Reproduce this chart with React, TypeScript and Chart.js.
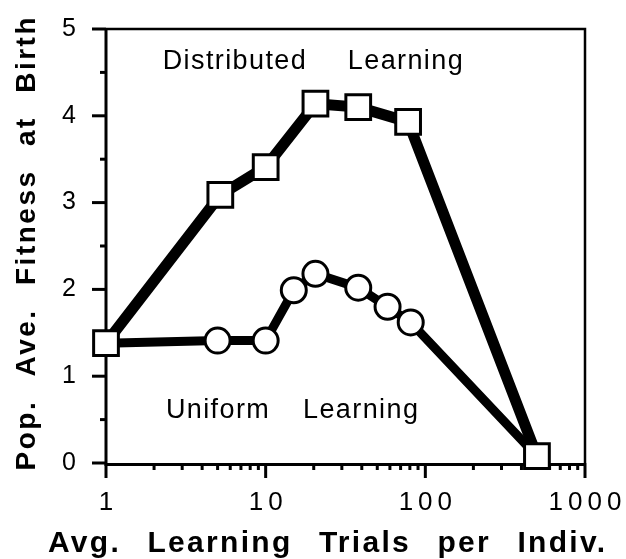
import React, { useEffect, useRef } from 'react';
import { Chart, registerables } from 'chart.js';

Chart.register(...registerables);

// ---- data ----
const distributedX = [1, 5.2, 10, 20.5, 38, 78, 500];
const distributedY = [1.38, 3.09, 3.41, 4.14, 4.1, 3.93, 0.08];
const uniformX = [1, 5, 10, 15, 20.5, 38, 58, 81, 500];
const uniformY = [1.38, 1.41, 1.41, 1.99, 2.18, 2.02, 1.8, 1.62, 0.08];

const xMajorTicks = [1, 10, 100, 1000];
const xMajorLabels = ['1', '10', '100', '1000'];
const xMinorTicks = [2, 3, 4, 5, 6, 7, 8, 9, 20, 30, 40, 50, 60, 70, 80, 90, 200, 300, 400, 500, 600, 700, 800, 900];
const yMajorTicks = [0, 1, 2, 3, 4, 5];
const yMinorTicks = [0.5, 1.5, 2.5, 3.5, 4.5];

const xTitle = 'Avg. Learning Trials per Indiv.';
const yTitle = 'Pop. Ave. Fitness at Birth';
const annotationTexts = ['Distributed Learning', 'Uniform Learning'];
const annotationX = [19.7, 14.6];
const annotationY = [4.62, 0.61];

const FONT = '"Liberation Sans", Arial, Helvetica, sans-serif';

function naturalWidth(ctx: CanvasRenderingContext2D, s: string) {
  (ctx as any).letterSpacing = '0px';
  return ctx.measureText(s).width;
}

// draw words centred on cx, stretching the gaps so the whole text spans `target` px
function drawSpread(ctx: CanvasRenderingContext2D, text: string, letterSp: number, target: number, cx: number, y: number) {
  const words = text.split(' ');
  const widths = words.map((w) => naturalWidth(ctx, w) + letterSp * Math.max(0, w.length - 1));
  const sum = widths.reduce((a, b) => a + b, 0);
  const gap = words.length > 1 ? (target - sum) / (words.length - 1) : 0;
  (ctx as any).letterSpacing = letterSp + 'px';
  let x = cx - target / 2;
  words.forEach((w, i) => {
    ctx.fillText(w, x, y);
    x += widths[i] + gap;
  });
}

const decorPlugin = {
  id: 'decor',
  beforeDatasetsDraw(chart: any) {
    const ctx: CanvasRenderingContext2D = chart.ctx;
    const { left, right, top, bottom } = chart.chartArea;
    const xs = chart.scales.x;
    const ys = chart.scales.y;
    ctx.save();
    ctx.strokeStyle = '#000';
    ctx.lineCap = 'butt';
    // frame
    ctx.lineWidth = 2.5;
    ctx.beginPath();
    ctx.moveTo(left, top);
    ctx.lineTo(right, top);
    ctx.lineTo(right, bottom);
    ctx.stroke();
    ctx.lineWidth = 3;
    ctx.beginPath();
    ctx.moveTo(left, top - 1);
    ctx.lineTo(left, bottom + 1.5);
    ctx.lineTo(right + 1, bottom + 1.5);
    ctx.stroke();
    // y ticks
    yMajorTicks.forEach((v) => {
      const y = ys.getPixelForValue(v);
      ctx.beginPath();
      ctx.moveTo(left - 14, y);
      ctx.lineTo(left, y);
      ctx.stroke();
    });
    yMinorTicks.forEach((v) => {
      const y = ys.getPixelForValue(v);
      ctx.beginPath();
      ctx.moveTo(left - 6, y);
      ctx.lineTo(left, y);
      ctx.stroke();
    });
    // x ticks
    xMajorTicks.forEach((v) => {
      const x = xs.getPixelForValue(v);
      ctx.beginPath();
      ctx.moveTo(x, bottom);
      ctx.lineTo(x, bottom + 15);
      ctx.stroke();
    });
    xMinorTicks.forEach((v) => {
      const x = xs.getPixelForValue(v);
      ctx.beginPath();
      ctx.moveTo(x, bottom);
      ctx.lineTo(x, bottom + 7);
      ctx.stroke();
    });
    ctx.restore();
  },
  afterDraw(chart: any) {
    const ctx: CanvasRenderingContext2D = chart.ctx;
    const { left, right, top, bottom } = chart.chartArea;
    const xs = chart.scales.x;
    const ys = chart.scales.y;
    ctx.save();
    ctx.fillStyle = '#000';
    // x tick labels
    ctx.font = `26px ${FONT}`;
    ctx.textAlign = 'center';
    ctx.textBaseline = 'middle';
    (ctx as any).letterSpacing = '5px';
    xMajorTicks.forEach((v, i) => {
      const x = xs.getPixelForValue(v) + 2.5;
      ctx.fillText(xMajorLabels[i], x, bottom + 40);
    });
    ctx.textAlign = 'left';
    ctx.textBaseline = 'alphabetic';
    // x title
    ctx.font = `bold 30px ${FONT}`;
    drawSpread(ctx, xTitle, 2.3, 557, (left + right) / 2 - 19, bottom + 89);
    // y title
    ctx.save();
    ctx.font = `bold 28px ${FONT}`;
    ctx.translate(35, (top + bottom) / 2 - 2);
    ctx.rotate(-Math.PI / 2);
    drawSpread(ctx, yTitle, 2.5, 453, 0, 0);
    ctx.restore();
    // annotations
    ctx.font = `27px ${FONT}`;
    ctx.textBaseline = 'middle';
    const totals = [300, 252];
    annotationTexts.forEach((t, i) => {
      drawSpread(ctx, t, 1.4, totals[i], xs.getPixelForValue(annotationX[i]), ys.getPixelForValue(annotationY[i]));
    });
    ctx.restore();
  },
};

export default function App() {
  const canvasRef = useRef<HTMLCanvasElement | null>(null);

  useEffect(() => {
    document.body.style.margin = '0';
    const canvas = canvasRef.current;
    if (!canvas) return;
    const lastU = uniformX.length - 1;
    const chart = new Chart(canvas, {
      type: 'scatter',
      data: {
        datasets: [
          {
            label: 'Distributed Learning',
            data: distributedX.map((x, i) => ({ x, y: distributedY[i] })),
            showLine: true,
            borderColor: '#000',
            borderWidth: 11,
            pointStyle: 'rect',
            pointRadius: 17.5,
            pointHoverRadius: 17.5,
            pointBackgroundColor: '#fff',
            pointBorderColor: '#000',
            pointBorderWidth: 3,
            clip: false,
            order: 0,
          } as any,
          {
            label: 'Uniform Learning',
            data: uniformX.map((x, i) => ({ x, y: uniformY[i] })),
            showLine: true,
            borderColor: '#000',
            borderWidth: 9,
            pointStyle: 'circle',
            pointRadius: (c: any) => (c.dataIndex === 0 || c.dataIndex === lastU ? 0 : 12.5),
            pointBackgroundColor: '#fff',
            pointBorderColor: '#000',
            pointBorderWidth: 3,
            clip: false,
            order: 1,
          } as any,
        ],
      },
      options: {
        animation: false,
        responsive: true,
        maintainAspectRatio: false,
        layout: { padding: { top: 29, right: 41, left: 0, bottom: 0 } },
        plugins: {
          legend: { display: false },
          tooltip: { enabled: false },
          title: { display: false },
        },
        scales: {
          x: {
            type: 'logarithmic',
            min: 1,
            max: 1000,
            grid: { display: false, drawTicks: false },
            border: { display: false },
            ticks: { display: false },
            afterFit: (s: any) => {
              s.height = 96;
              s.paddingLeft = 0;
              s.paddingRight = 0;
            },
          },
          y: {
            type: 'linear',
            min: 0,
            max: 5,
            grid: { display: false, drawTicks: false },
            border: { display: false },
            ticks: {
              stepSize: 1,
              padding: 30,
              color: '#000',
              font: { family: FONT, size: 25 },
            },
            afterFit: (s: any) => {
              s.width = 106;
              s.paddingTop = 0;
              s.paddingBottom = 0;
            },
          },
        },
      },
      plugins: [decorPlugin],
    });
    return () => chart.destroy();
  }, []);

  return (
    <div style={{ width: 626, height: 559, position: 'relative', background: '#fff' }}>
      <canvas ref={canvasRef} />
    </div>
  );
}
